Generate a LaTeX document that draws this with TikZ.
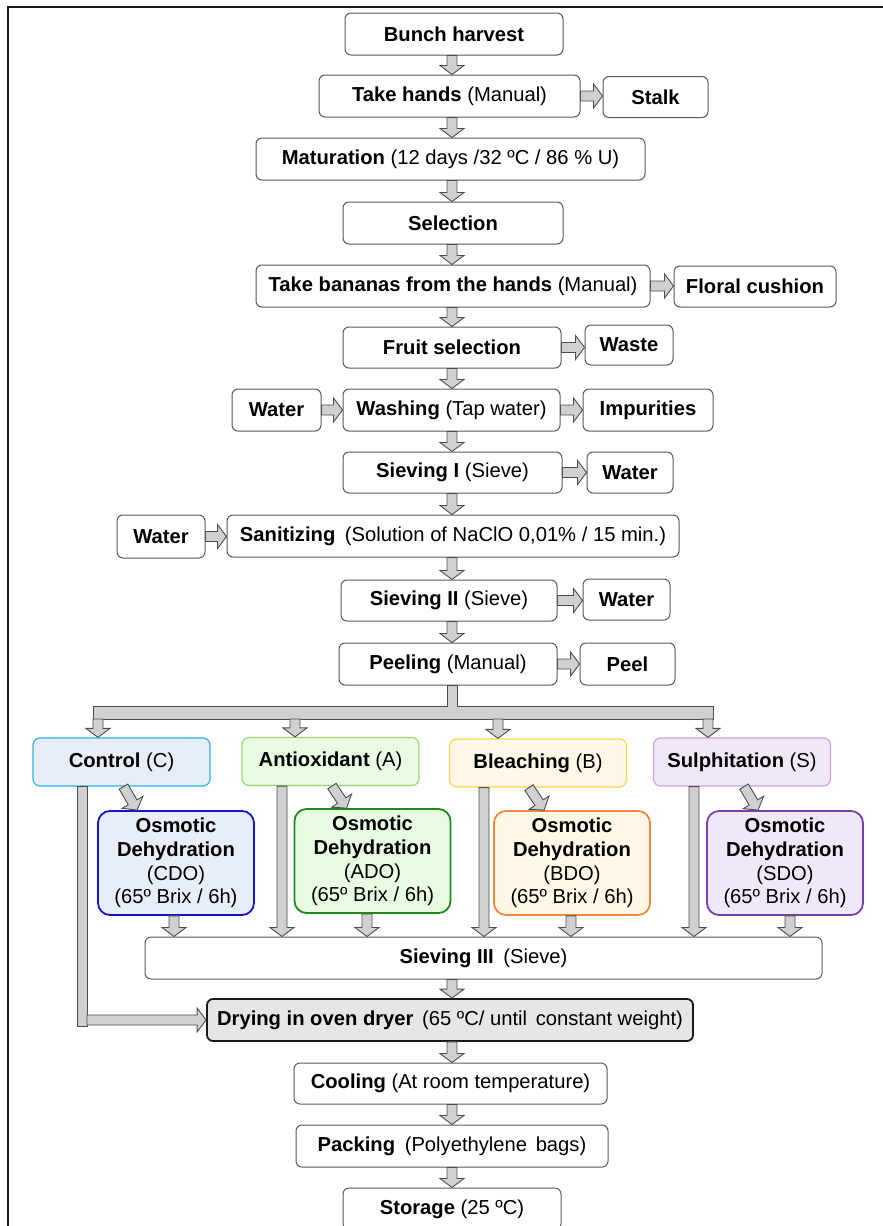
\documentclass[tikz,border=0pt]{standalone}
\usepackage{fontspec}
\setmainfont{Liberation Sans}
\usetikzlibrary{calc}
\definecolor{boxline}{HTML}{595959}
\definecolor{arrfill}{HTML}{D0D0D0}
\definecolor{arrline}{HTML}{4D4D4D}
\definecolor{cfill}{HTML}{E7EEF8}
\definecolor{cline}{HTML}{2BB5E8}
\definecolor{afill}{HTML}{E8FCE2}
\definecolor{aline}{HTML}{9CD86C}
\definecolor{bfill}{HTML}{FFF8E6}
\definecolor{bline}{HTML}{FFD54F}
\definecolor{sfill}{HTML}{F0E8F8}
\definecolor{sline}{HTML}{C6A4E6}
\definecolor{cdoline}{HTML}{1616C8}
\definecolor{adoline}{HTML}{1B8A1B}
\definecolor{bdoline}{HTML}{F0893C}
\definecolor{sdoline}{HTML}{7840A8}
\definecolor{dryfill}{HTML}{E6E6E6}
\newcommand\barrow[2]{%
  \coordinate (baS) at (#1);
  \coordinate (baE) at (#2);
  \coordinate (baD) at ($(baE)!9pt!(baS)$);
  \draw[blockarrow] ($(baS)!5pt!90:(baE)$) -- ($(baD)!5pt!90:(baE)$) -- ($(baD)!12pt!90:(baE)$) -- (baE) -- ($(baD)!12pt!-90:(baE)$) -- ($(baD)!5pt!-90:(baE)$) -- ($(baS)!5pt!-90:(baE)$) -- cycle;
}
\begin{document}
\begin{tikzpicture}[x=1pt,y=-1pt,
  box/.style={draw=boxline, line width=1pt, rounded corners=6pt, fill=white, inner sep=0pt, align=center, font=\fontsize{20.2}{23.7}\selectfont},
  catbox/.style={box, line width=1.2pt, rounded corners=7pt, minimum width=177, minimum height=48},
  osm/.style={box, rounded corners=12pt, line width=1.8pt, minimum width=156, minimum height=104},
  blockarrow/.style={draw=arrline, fill=arrfill, line width=0.9pt, line join=miter}]
\useasboundingbox (0,0) rectangle (883,1226);
\draw[line width=1.5pt, black!90] (8,1226) -- (8,7) -- (883,7);

% main chain
\node[box, minimum width=218, minimum height=42] (bunch) at (454,34) {\textbf{Bunch harvest}};
\node[box, minimum width=261, minimum height=42] (takehands) at (449.5,96) {\textbf{Take hands} (Manual)};
\node[box, minimum width=105, minimum height=41] (stalk) at (655.5,97) {\textbf{Stalk}};
\node[box, minimum width=389, minimum height=42] (matur) at (450.5,159) {\textbf{Maturation} (12 days /32 ºC / 86 \% U)};
\node[box, minimum width=220, minimum height=42] (select) at (453,223) {\textbf{Selection}};
\node[box, minimum width=394, minimum height=42] (takeban) at (453,286) {\textbf{Take bananas from the hands} (Manual)};
\node[box, minimum width=162, minimum height=41] (floral) at (755,286.5) {\textbf{Floral cushion}};
\node[box, minimum width=218, minimum height=41] (fruit) at (452,347.5) {\textbf{Fruit selection}};
\node[box, minimum width=88, minimum height=40] (waste) at (629,345) {\textbf{Waste}};
\node[box, minimum width=89, minimum height=42] (waterA) at (276.5,410) {\textbf{Water}};
\node[box, minimum width=217, minimum height=42] (wash) at (451.5,410) {\textbf{Washing} (Tap water)};
\node[box, minimum width=130, minimum height=42] (impur) at (648,410) {\textbf{Impurities}};
\node[box, minimum width=219, minimum height=41] (sieve1) at (452.5,472.5) {\textbf{Sieving I} (Sieve)};
\node[box, minimum width=86, minimum height=41] (waterB) at (630,472.5) {\textbf{Water}};
\node[box, minimum width=88, minimum height=43] (waterC) at (161,536.5) {\textbf{Water}};
\node[box, minimum width=452, minimum height=42] (sanit) at (453,536) {\textbf{Sanitizing}\hspace{4pt} (Solution of NaClO 0,01\% / 15 min.)};
\node[box, minimum width=216, minimum height=41] (sieve2) at (449,600.5) {\textbf{Sieving II} (Sieve)};
\node[box, minimum width=87, minimum height=41] (waterD) at (626.5,599.5) {\textbf{Water}};
\node[box, minimum width=218, minimum height=42] (peel) at (448,664) {\textbf{Peeling} (Manual)};
\node[box, minimum width=95, minimum height=42] (peelout) at (627.5,664) {\textbf{Peel}};

% treatments
\node[catbox, draw=cline, fill=cfill] (ctrl) at (121.5,762) {\textbf{Control} (C)};
\node[catbox, draw=aline, fill=afill] (anti) at (330.5,761.5) {\textbf{Antioxidant} (A)};
\node[catbox, draw=bline, fill=bfill] (bleach) at (538,763) {\textbf{Bleaching} (B)};
\node[catbox, draw=sline, fill=sfill] (sulph) at (742,762) {\textbf{Sulphitation} (S)};

\node[osm, draw=cdoline, fill=cfill] (cdo) at (176,863) {\textbf{Osmotic}\\\textbf{Dehydration}\\(CDO)\\(65º Brix / 6h)};
\node[osm, draw=adoline, fill=afill] (ado) at (372.5,861) {\textbf{Osmotic}\\\textbf{Dehydration}\\(ADO)\\(65º Brix / 6h)};
\node[osm, draw=bdoline, fill=bfill] (bdo) at (572,863) {\textbf{Osmotic}\\\textbf{Dehydration}\\(BDO)\\(65º Brix / 6h)};
\node[osm, draw=sdoline, fill=sfill] (sdo) at (785,863) {\textbf{Osmotic}\\\textbf{Dehydration}\\(SDO)\\(65º Brix / 6h)};

% lower chain
\node[box, minimum width=677, minimum height=42] (sieve3) at (483.5,958) {\textbf{Sieving III}\hspace{4pt} (Sieve)};
\node[box, line width=1.8pt, draw=black!90, fill=dryfill, minimum width=486, minimum height=42] (drying) at (450,1020) {\textbf{Drying in oven dryer}\hspace{3pt} (65 ºC/ until\hspace{3pt} constant weight)};
\node[box, minimum width=313, minimum height=41] (cooling) at (450.5,1083.5) {\textbf{Cooling} (At room temperature)};
\node[box, minimum width=312, minimum height=42] (packing) at (452,1146) {\textbf{Packing}\hspace{4pt} (Polyethylene\hspace{3pt} bags)};
\node[box, minimum width=218, minimum height=42] (storage) at (452,1209) {\textbf{Storage} (25 ºC)};

% connectors
\coordinate (spine) at (452,0);
\barrow{bunch.south -| spine}{takehands.north -| spine}
\barrow{takehands.south -| spine}{matur.north -| spine}
\barrow{matur.south -| spine}{select.north -| spine}
\barrow{select.south -| spine}{takeban.north -| spine}
\barrow{takeban.south -| spine}{fruit.north -| spine}
\barrow{fruit.south -| spine}{wash.north -| spine}
\barrow{wash.south -| spine}{sieve1.north -| spine}
\barrow{sieve1.south -| spine}{sanit.north -| spine}
\barrow{sanit.south -| spine}{sieve2.north -| spine}
\barrow{sieve2.south -| spine}{peel.north -| spine}

\barrow{takehands.east}{takehands.east -| stalk.west}
\barrow{takeban.east}{takeban.east -| floral.west}
\barrow{fruit.east}{fruit.east -| waste.west}
\barrow{waterA.east}{waterA.east -| wash.west}
\barrow{wash.east}{wash.east -| impur.west}
\barrow{sieve1.east}{sieve1.east -| waterB.west}
\barrow{waterC.east}{waterC.east -| sanit.west}
\barrow{sieve2.east}{sieve2.east -| waterD.west}
\barrow{peel.east}{peel.east -| peelout.west}

% branching bar
\coordinate (barTL) at (93,706);
\coordinate (barBR) at (713,719);
\draw[blockarrow] ($(peel.south -| spine)+(-5,0)$) -- ($(barTL -| spine)+(-5,0)$) -- (barTL) -- (barTL |- barBR) -- (barBR) -- (barBR |- barTL) -- ($(barTL -| spine)+(5,0)$) -- ($(peel.south -| spine)+(5,0)$) -- cycle;
\coordinate (bC) at (98,719);
\coordinate (bA) at (295,719);
\coordinate (bB) at (498,719);
\coordinate (bS) at (708,719);
\barrow{bC}{bC |- ctrl.north}
\barrow{bA}{bA |- anti.north}
\barrow{bB}{bB |- bleach.north}
\barrow{bS}{bS |- sulph.north}

% diagonal arrows to osmotic dehydration
\barrow{$(ctrl.south)+(2,0)$}{$(cdo.north west)+(40,0)$}
\barrow{$(anti.south)+(1.5,0)$}{$(ado.north west)+(53,0)$}
\barrow{$(bleach.south)+(-9,0)$}{$(bdo.north west)+(51,0)$}
\barrow{$(sulph.south)+(2,0)$}{$(sdo.north west)+(52,0)$}

% long arrows to sieving III
\coordinate (xA) at (282,0);
\coordinate (xB) at (484,0);
\coordinate (xS) at (694,0);
\barrow{anti.south -| xA}{sieve3.north -| xA}
\barrow{bleach.south -| xB}{sieve3.north -| xB}
\barrow{sulph.south -| xS}{sieve3.north -| xS}
\coordinate (xc) at (174,0);
\coordinate (xa) at (367,0);
\coordinate (xb) at (571,0);
\coordinate (xs) at (790,0);
\barrow{cdo.south -| xc}{sieve3.north -| xc}
\barrow{ado.south -| xa}{sieve3.north -| xa}
\barrow{bdo.south -| xb}{sieve3.north -| xb}
\barrow{sdo.south -| xs}{sieve3.north -| xs}

% control bypass to drying
\coordinate (cTop) at (77,0);
\coordinate (cTurn) at (87,1026);
\draw[blockarrow] (ctrl.south -| cTop) rectangle (cTurn);
\coordinate (cArr) at (87,1020);
\barrow{cArr}{cArr -| drying.west}

\barrow{sieve3.south -| spine}{drying.north -| spine}
\barrow{drying.south -| spine}{cooling.north -| spine}
\barrow{cooling.south -| spine}{packing.north -| spine}
\barrow{packing.south -| spine}{storage.north -| spine}
\end{tikzpicture}
\end{document}
